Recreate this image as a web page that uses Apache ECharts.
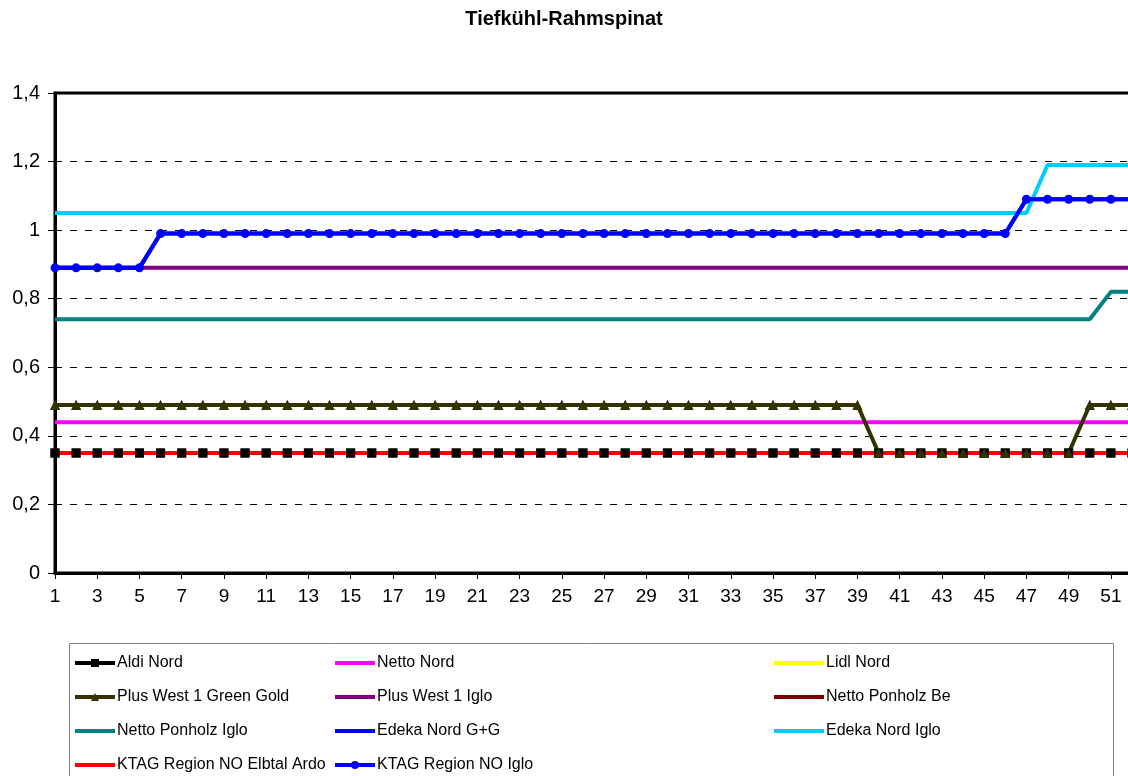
<!DOCTYPE html>
<html>
<head>
<meta charset="utf-8">
<title>Tiefkühl-Rahmspinat</title>
<script src="https://cdn.jsdelivr.net/npm/echarts@6/dist/echarts.min.js"></script>
<style>
  html, body { margin: 0; padding: 0; background: #fff; }
  #chart { width: 1128px; height: 776px; }
</style>
</head>
<body>
<div id="chart"></div>
<script>
// Kalenderwochen
const weeks = [
  '1', '2', '3', '4', '5', '6', '7', '8', '9', '10', '11', '12', '13',
  '14', '15', '16', '17', '18', '19', '20', '21', '22', '23', '24', '25', '26',
  '27', '28', '29', '30', '31', '32', '33', '34', '35', '36', '37', '38', '39',
  '40', '41', '42', '43', '44', '45', '46', '47', '48', '49', '50', '51', '52',
];

const aldiNord = [
  0.35, 0.35, 0.35, 0.35, 0.35, 0.35, 0.35, 0.35, 0.35, 0.35, 0.35, 0.35, 0.35,
  0.35, 0.35, 0.35, 0.35, 0.35, 0.35, 0.35, 0.35, 0.35, 0.35, 0.35, 0.35, 0.35,
  0.35, 0.35, 0.35, 0.35, 0.35, 0.35, 0.35, 0.35, 0.35, 0.35, 0.35, 0.35, 0.35,
  0.35, 0.35, 0.35, 0.35, 0.35, 0.35, 0.35, 0.35, 0.35, 0.35, 0.35, 0.35, 0.35,
];
const nettoNord = [
  0.44, 0.44, 0.44, 0.44, 0.44, 0.44, 0.44, 0.44, 0.44, 0.44, 0.44, 0.44, 0.44,
  0.44, 0.44, 0.44, 0.44, 0.44, 0.44, 0.44, 0.44, 0.44, 0.44, 0.44, 0.44, 0.44,
  0.44, 0.44, 0.44, 0.44, 0.44, 0.44, 0.44, 0.44, 0.44, 0.44, 0.44, 0.44, 0.44,
  0.44, 0.44, 0.44, 0.44, 0.44, 0.44, 0.44, 0.44, 0.44, 0.44, 0.44, 0.44, 0.44,
];
const lidlNord = []; // keine Werte sichtbar
const plusWestGreenGold = [
  0.49, 0.49, 0.49, 0.49, 0.49, 0.49, 0.49, 0.49, 0.49, 0.49, 0.49, 0.49, 0.49,
  0.49, 0.49, 0.49, 0.49, 0.49, 0.49, 0.49, 0.49, 0.49, 0.49, 0.49, 0.49, 0.49,
  0.49, 0.49, 0.49, 0.49, 0.49, 0.49, 0.49, 0.49, 0.49, 0.49, 0.49, 0.49, 0.49,
  0.35, 0.35, 0.35, 0.35, 0.35, 0.35, 0.35, 0.35, 0.35, 0.35, 0.49, 0.49, 0.49,
];
const plusWestIglo = [
  0.89, 0.89, 0.89, 0.89, 0.89, 0.89, 0.89, 0.89, 0.89, 0.89, 0.89, 0.89, 0.89,
  0.89, 0.89, 0.89, 0.89, 0.89, 0.89, 0.89, 0.89, 0.89, 0.89, 0.89, 0.89, 0.89,
  0.89, 0.89, 0.89, 0.89, 0.89, 0.89, 0.89, 0.89, 0.89, 0.89, 0.89, 0.89, 0.89,
  0.89, 0.89, 0.89, 0.89, 0.89, 0.89, 0.89, 0.89, 0.89, 0.89, 0.89, 0.89, 0.89,
];
const nettoPonholzBe = []; // keine Werte sichtbar
const nettoPonholzIglo = [
  0.74, 0.74, 0.74, 0.74, 0.74, 0.74, 0.74, 0.74, 0.74, 0.74, 0.74, 0.74, 0.74,
  0.74, 0.74, 0.74, 0.74, 0.74, 0.74, 0.74, 0.74, 0.74, 0.74, 0.74, 0.74, 0.74,
  0.74, 0.74, 0.74, 0.74, 0.74, 0.74, 0.74, 0.74, 0.74, 0.74, 0.74, 0.74, 0.74,
  0.74, 0.74, 0.74, 0.74, 0.74, 0.74, 0.74, 0.74, 0.74, 0.74, 0.74, 0.82, 0.82,
];
const edekaNordGG = [
  0.89, 0.89, 0.89, 0.89, 0.89, 0.99, 0.99, 0.99, 0.99, 0.99, 0.99, 0.99, 0.99,
  0.99, 0.99, 0.99, 0.99, 0.99, 0.99, 0.99, 0.99, 0.99, 0.99, 0.99, 0.99, 0.99,
  0.99, 0.99, 0.99, 0.99, 0.99, 0.99, 0.99, 0.99, 0.99, 0.99, 0.99, 0.99, 0.99,
  0.99, 0.99, 0.99, 0.99, 0.99, 0.99, 0.99, 1.09, 1.09, 1.09, 1.09, 1.09, 1.09,
];
const edekaNordIglo = [
  1.05, 1.05, 1.05, 1.05, 1.05, 1.05, 1.05, 1.05, 1.05, 1.05, 1.05, 1.05, 1.05,
  1.05, 1.05, 1.05, 1.05, 1.05, 1.05, 1.05, 1.05, 1.05, 1.05, 1.05, 1.05, 1.05,
  1.05, 1.05, 1.05, 1.05, 1.05, 1.05, 1.05, 1.05, 1.05, 1.05, 1.05, 1.05, 1.05,
  1.05, 1.05, 1.05, 1.05, 1.05, 1.05, 1.05, 1.05, 1.19, 1.19, 1.19, 1.19, 1.19,
];
const ktagElbtalArdo = [
  0.35, 0.35, 0.35, 0.35, 0.35, 0.35, 0.35, 0.35, 0.35, 0.35, 0.35, 0.35, 0.35,
  0.35, 0.35, 0.35, 0.35, 0.35, 0.35, 0.35, 0.35, 0.35, 0.35, 0.35, 0.35, 0.35,
  0.35, 0.35, 0.35, 0.35, 0.35, 0.35, 0.35, 0.35, 0.35, 0.35, 0.35, 0.35, 0.35,
  0.35, 0.35, 0.35, 0.35, 0.35, 0.35, 0.35, 0.35, 0.35, 0.35, 0.35, 0.35, 0.35,
];
const ktagIglo = [
  0.89, 0.89, 0.89, 0.89, 0.89, 0.99, 0.99, 0.99, 0.99, 0.99, 0.99, 0.99, 0.99,
  0.99, 0.99, 0.99, 0.99, 0.99, 0.99, 0.99, 0.99, 0.99, 0.99, 0.99, 0.99, 0.99,
  0.99, 0.99, 0.99, 0.99, 0.99, 0.99, 0.99, 0.99, 0.99, 0.99, 0.99, 0.99, 0.99,
  0.99, 0.99, 0.99, 0.99, 0.99, 0.99, 0.99, 1.09, 1.09, 1.09, 1.09, 1.09, 1.09,
];

const FONT = 'Liberation Sans, Arial, sans-serif';

const lineSeries = (name, data, color, symbol) => ({
  name: name,
  type: 'line',
  data: data,
  symbol: symbol || 'none',
  showSymbol: !!symbol,
  symbolSize: symbol === 'triangle' ? 10 : 9,
  lineStyle: { width: 4, color: color },
  itemStyle: { color: color },
  emphasis: { disabled: true },
});

// Marker nur oben drauf (wie Excel: erst Linien, dann Marker)
const markerOverlay = (data, color, symbol) => ({
  name: '_' + symbol,
  type: 'line',
  data: data,
  symbol: symbol,
  symbolSize: symbol === 'triangle' ? 10 : 9,
  lineStyle: { opacity: 0 },
  itemStyle: { color: color },
  z: 5,
  silent: true,
});

// Legende: drei Spalten wie im Excel-Kasten
const legendCols = [73, 333, 772];
const legendRows = [661, 695, 729, 763];
const legendItem = (name, col, row, hasMarker) => ({
  orient: 'horizontal',
  left: legendCols[col],
  top: legendRows[row] - 6,
  padding: 0,
  itemWidth: col === 2 ? 50 : 40,
  itemHeight: 10,
  selectedMode: false,
  textStyle: { fontSize: 16, color: '#000', fontFamily: FONT, padding: [0, 0, 0, -3] },
  lineStyle: { width: 4 },
  itemStyle: hasMarker ? {} : { opacity: 0 },
  data: [name],
});

const myChart = echarts.init(document.getElementById('chart'));

const option = {
  animation: false,
  backgroundColor: '#fff',
  title: {
    text: 'Tiefkühl-Rahmspinat',
    left: 'center',
    top: 9,
    padding: 0,
    textStyle: { fontSize: 20, fontWeight: 'bold', color: '#000', fontFamily: FONT },
  },
  graphic: [
    {
      type: 'rect',
      shape: { x: 69.5, y: 643.5, width: 1044, height: 200 },
      style: { fill: 'none', stroke: '#808080', lineWidth: 1 },
      z: -1,
    },
  ],
  legend: [
    legendItem('Aldi Nord', 0, 0, true),
    legendItem('Plus West 1 Green Gold', 0, 1, true),
    legendItem('Netto Ponholz Iglo', 0, 2, false),
    legendItem('KTAG Region NO Elbtal Ardo', 0, 3, false),
    legendItem('Netto Nord', 1, 0, false),
    legendItem('Plus West 1 Iglo', 1, 1, false),
    legendItem('Edeka Nord G+G', 1, 2, false),
    legendItem('KTAG Region NO Iglo', 1, 3, true),
    legendItem('Lidl Nord', 2, 0, false),
    legendItem('Netto Ponholz Be', 2, 1, false),
    legendItem('Edeka Nord Iglo', 2, 2, false),
  ],
  grid: {
    left: 55,
    width: 1077,
    top: 93,
    bottom: 203,
    outerBoundsMode: 'none',
    containLabel: false,
    show: true,
    borderColor: '#000',
    borderWidth: 3,
  },
  xAxis: {
    type: 'category',
    data: weeks,
    boundaryGap: false,
    axisLine: { lineStyle: { color: '#000', width: 3 } },
    axisTick: { interval: 1, length: 6, lineStyle: { color: '#000', width: 1 } },
    axisLabel: { interval: 1, margin: 14, fontSize: 19, color: '#000', fontFamily: FONT },
    splitLine: { show: false },
  },
  yAxis: {
    type: 'value',
    min: 0,
    max: 1.4,
    interval: 0.2,
    axisLine: { show: true, lineStyle: { color: '#000', width: 3 } },
    axisTick: { show: true, length: 7, lineStyle: { color: '#000', width: 1 } },
    axisLabel: {
      margin: 15,
      fontSize: 20,
      color: '#000',
      fontFamily: FONT,
      formatter: (v) => String(Math.round(v * 10) / 10).replace('.', ','),
    },
    splitLine: { lineStyle: { color: '#000', width: 1, type: [7, 8] } },
  },
  series: [
    lineSeries('Aldi Nord', aldiNord, '#000000', 'rect'),
    lineSeries('Netto Nord', nettoNord, '#FF00FF'),
    lineSeries('Lidl Nord', lidlNord, '#FFFF00'),
    lineSeries('Plus West 1 Green Gold', plusWestGreenGold, '#333300', 'triangle'),
    lineSeries('Plus West 1 Iglo', plusWestIglo, '#800080'),
    lineSeries('Netto Ponholz Be', nettoPonholzBe, '#800000'),
    lineSeries('Netto Ponholz Iglo', nettoPonholzIglo, '#008080'),
    lineSeries('Edeka Nord G+G', edekaNordGG, '#0000FF'),
    lineSeries('Edeka Nord Iglo', edekaNordIglo, '#00CCFF'),
    lineSeries('KTAG Region NO Elbtal Ardo', ktagElbtalArdo, '#FF0000'),
    lineSeries('KTAG Region NO Iglo', ktagIglo, '#0000FF', 'circle'),
    markerOverlay(aldiNord, '#000000', 'rect'),
    markerOverlay(plusWestGreenGold, '#333300', 'triangle'),
  ],
};

myChart.setOption(option);

window.addEventListener('resize', () => {
  myChart.resize();
});
</script>
</body>
</html>
